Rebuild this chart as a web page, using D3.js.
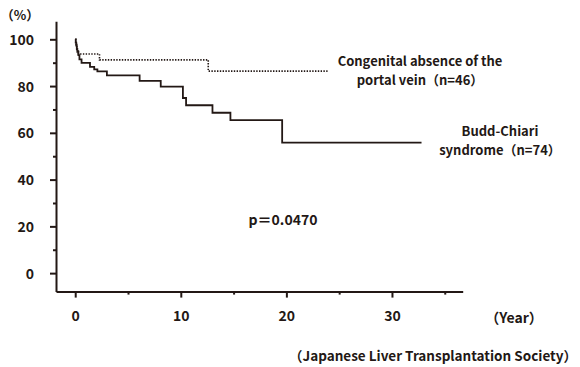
<!DOCTYPE html>
<html>
<head>
<meta charset="utf-8">
<script src="https://cdn.jsdelivr.net/npm/d3@7"></script>
<style>
    body { margin: 0; background: #fff; }
    svg text { font-family: "Noto Sans CJK JP", "Noto Sans", sans-serif; font-weight: bold; fill: #231815; }
</style>
</head>
<body>
<div id="chart"></div>
<script>
// Kaplan-Meier steps: [years, % survival]
const buddChiariTimes = [0, 0.05, 0.1, 0.15, 0.2, 0.3, 0.4, 0.6, 1.4, 1.8, 2.1, 3.0, 6.1, 8.1, 10.2, 10.5, 13.0, 14.7, 19.6, 32.8];
const buddChiariSurv = [100, 98.6, 97.3, 95.9, 94.6, 93.2, 91.4, 89.9, 88.2, 87.1, 86.3, 84.6, 82.2, 79.8, 74.9, 71.8, 68.6, 65.4, 55.8, 55.8];

const congenitalTimes = [0, 0.05, 0.15, 0.3, 2.3, 12.6, 23.9];
const congenitalSurv = [100, 97.8, 95.7, 93.7, 91.2, 86.4, 86.4];

const xMajorTicks = [0, 10, 20, 30];
const xMinorTicks = [5, 15, 25, 35];
const yMajorTicks = [0, 20, 40, 60, 80, 100];
const yMinorTicks = [10, 30, 50, 70, 90];

const ink = '#231815';
const width = 580;
const height = 367;

const svg = d3.select('#chart')
    .append('svg')
    .attr('width', width)
    .attr('height', height);

const x = d3.scaleLinear().domain([-1.82, 36.7]).range([56, 462.7]);
const y = d3.scaleLinear().domain([-7.9, 107.7]).range([291.6, 21.3]);

// y axis
const yAxis = svg.append('g')
    .attr('transform', `translate(${x.range()[0]},0)`)
    .call(d3.axisLeft(y).tickValues(yMajorTicks).tickSize(6).tickSizeOuter(0).tickPadding(16));
yAxis.selectAll('.tick text').attr('font-size', 14).attr('dy', '0.36em');
svg.append('g')
    .attr('transform', `translate(${x.range()[0]},0)`)
    .call(d3.axisLeft(y).tickValues(yMinorTicks).tickSize(3).tickFormat(''))
    .select('.domain').remove();

// x axis
const xAxis = svg.append('g')
    .attr('transform', `translate(0,${y.range()[0]})`)
    .call(d3.axisBottom(x).tickValues(xMajorTicks).tickSize(6).tickSizeOuter(0).tickPadding(16));
xAxis.selectAll('.tick text').attr('font-size', 14).attr('dy', '0.5em');
svg.append('g')
    .attr('transform', `translate(0,${y.range()[0]})`)
    .call(d3.axisBottom(x).tickValues(xMinorTicks).tickSize(3).tickFormat(''))
    .select('.domain').remove();

svg.selectAll('.domain, .tick line')
    .attr('stroke', ink)
    .attr('stroke-width', 2);

// survival curves
const line = d3.line()
    .x((d) => x(d[0]))
    .y((d) => y(d[1]))
    .curve(d3.curveStepAfter);

svg.append('path')
    .datum(d3.zip(congenitalTimes, congenitalSurv))
    .attr('d', line)
    .attr('fill', 'none')
    .attr('stroke', ink)
    .attr('stroke-width', 1.6)
    .attr('stroke-dasharray', '1.4,1.4');

svg.append('path')
    .datum(d3.zip(buddChiariTimes, buddChiariSurv))
    .attr('d', line)
    .attr('fill', 'none')
    .attr('stroke', ink)
    .attr('stroke-width', 1.8);

// labels (multi-line labels as one text with tspans)
const addText = (lines, tx, ty, anchor, size) => {
    const t = svg.append('text')
        .attr('x', tx)
        .attr('y', ty)
        .attr('text-anchor', anchor)
        .attr('font-size', size);
    lines.forEach((l, i) => {
        t.append('tspan')
            .attr('x', tx)
            .attr('dy', i === 0 ? 0 : 19)
            .text(l);
    });
};

addText(['（%）'], 20, 20, 'middle', 13);
addText(['Congenital absence of the', 'portal vein（n=46）'], 420, 66, 'middle', 13);
addText(['Budd-Chiari', 'syndrome（n=74）'], 500, 136, 'middle', 13);
addText(['p＝0.0470'], 283, 225, 'middle', 14);
addText(['（Year）'], 514, 323, 'middle', 14);
addText(['（Japanese Liver Transplantation Society）'], 577, 361, 'end', 13.5);
</script>
</body>
</html>
